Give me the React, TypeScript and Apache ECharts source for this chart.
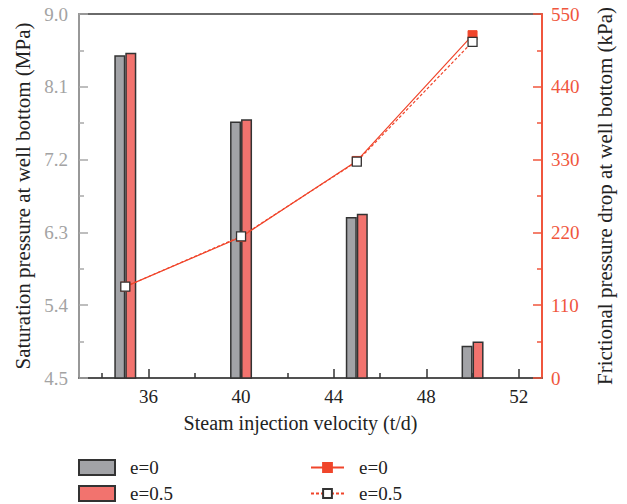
import React, { useEffect, useRef } from "react";
import * as echarts from "echarts";

const velocities = [35, 40, 45, 50];
const satPressureE0 = [8.49, 7.67, 6.49, 4.9];
const satPressureE05 = [8.52, 7.7, 6.53, 4.95];
const frictionDropE0 = [138, 213, 328, 518];
const frictionDropE05 = [138, 214, 327, 508];
const xMajorTicks = [36, 40, 44, 48, 52];
const xMinorTicks = [34, 38, 42, 46, 50];
const barNames = ["e=0", "e=0.5"];
const lineNames = ["L e=0", "L e=0.5"];

const FONT = "Liberation Serif";
const GRAY_BAR = "#a2a3a7";
const RED_BAR = "#f2736e";
const RED_LINE = "#f0452b";
const RED_AXIS = "#f0563d";
const GRAY_AXIS = "#a9a9a9";
const GRAY_LABEL = "#a3a3a3";
const LABEL_SIZE = 19;

export default function App() {
  const ref = useRef<HTMLDivElement>(null);
  useEffect(() => {
    if (!ref.current) return;
    const chart = echarts.init(ref.current, null, { renderer: "svg" });
    const pair = (xs: number[], ys: number[]) => xs.map((x, i) => [x, ys[i]]);
    const legendText = { fontFamily: FONT, fontSize: LABEL_SIZE, color: "#222" };
    const barLegend = (name: string, top: number) => ({
      orient: "vertical",
      left: 78,
      top,
      padding: 0,
      itemWidth: 36,
      itemHeight: 15,
      icon: "rect",
      data: [name],
      textStyle: { ...legendText, padding: [0, 0, 0, 10] },
    });
    const lineLegend = (name: string, top: number) => ({
      orient: "vertical",
      left: 310,
      top,
      padding: 0,
      itemWidth: 33,
      itemHeight: 11,
      data: [name],
      formatter: (n: string) => n.replace("L ", ""),
      textStyle: { ...legendText, padding: [0, 0, 0, 10] },
    });
    chart.setOption({
      animation: false,
      textStyle: { fontFamily: FONT },
      grid: {
        left: 79,
        right: 85,
        top: 14,
        bottom: 126,
        containLabel: false,
        outerBoundsMode: "none",
        show: true,
        borderColor: "#3a3a3a",
        borderWidth: 1.5,
        backgroundColor: "transparent",
      },
      legend: [
        barLegend(barNames[0], 458),
        barLegend(barNames[1], 484),
        lineLegend(lineNames[0], 458),
        lineLegend(lineNames[1], 484),
      ],
      xAxis: [
        {
          type: "value",
          min: 33,
          max: 53,
          name: "Steam injection velocity (t/d)",
          nameLocation: "middle",
          nameGap: 35,
          nameTextStyle: { fontFamily: FONT, fontSize: 20, color: "#222", padding: [0, 20, 0, 0] },
          axisLine: { show: true, lineStyle: { color: "#4a4a4a", width: 1.5 } },
          axisTick: {
            show: true,
            inside: true,
            length: 9,
            customValues: xMajorTicks,
            lineStyle: { color: "#333", width: 1.5 },
          },
          axisLabel: {
            customValues: xMajorTicks,
            fontFamily: FONT,
            fontSize: LABEL_SIZE,
            color: "#222",
            margin: 9,
          },
          splitLine: { show: false },
        },
        {
          type: "value",
          min: 33,
          max: 53,
          position: "bottom",
          axisLine: { show: false },
          axisTick: {
            show: true,
            inside: true,
            length: 5,
            customValues: xMinorTicks,
            lineStyle: { color: "#333", width: 1.5 },
          },
          axisLabel: { show: false },
          splitLine: { show: false },
        },
      ],
      yAxis: [
        {
          type: "value",
          min: 4.5,
          max: 9.0,
          interval: 0.9,
          position: "left",
          name: "Saturation pressure at well bottom (MPa)",
          nameLocation: "middle",
          nameRotate: 90,
          nameGap: 44,
          nameTextStyle: { fontFamily: FONT, fontSize: 21, color: "#222" },
          axisLine: { show: true, lineStyle: { color: GRAY_AXIS, width: 1.5 } },
          axisTick: { show: true, inside: true, length: 9, lineStyle: { color: GRAY_AXIS, width: 1.5 } },
          minorTick: { show: true, splitNumber: 2, length: 5, lineStyle: { color: GRAY_AXIS, width: 1.5 } },
          axisLabel: {
            fontFamily: FONT,
            fontSize: LABEL_SIZE,
            color: GRAY_LABEL,
            margin: 11,
            formatter: (v: number) => v.toFixed(1),
          },
          splitLine: { show: false },
        },
        {
          type: "value",
          min: 0,
          max: 550,
          interval: 110,
          position: "right",
          name: "Frictional pressure drop at well bottom (kPa)",
          nameLocation: "middle",
          nameRotate: 90,
          nameGap: 52,
          nameTextStyle: { fontFamily: FONT, fontSize: 21, color: "#222" },
          axisLine: { show: true, lineStyle: { color: RED_AXIS, width: 2 } },
          axisTick: { show: true, inside: true, length: 9, lineStyle: { color: RED_AXIS, width: 1.5 } },
          minorTick: { show: true, splitNumber: 2, length: 5, lineStyle: { color: RED_AXIS, width: 1.5 } },
          axisLabel: { fontFamily: FONT, fontSize: LABEL_SIZE, color: RED_AXIS, margin: 9 },
          splitLine: { show: false },
        },
      ],
      series: [
        {
          name: barNames[0],
          type: "bar",
          xAxisIndex: 0,
          yAxisIndex: 0,
          barWidth: 11,
          barGap: "0%",
          data: pair(velocities, satPressureE0),
          itemStyle: { color: GRAY_BAR, borderColor: "#333", borderWidth: 1.5 },
        },
        {
          name: barNames[1],
          type: "bar",
          xAxisIndex: 0,
          yAxisIndex: 0,
          barWidth: 11,
          barGap: "0%",
          data: pair(velocities, satPressureE05),
          itemStyle: { color: RED_BAR, borderColor: "#333", borderWidth: 1.5 },
        },
        {
          name: lineNames[0],
          type: "line",
          xAxisIndex: 0,
          yAxisIndex: 1,
          data: pair(velocities, frictionDropE0),
          symbol: "rect",
          symbolSize: 9,
          lineStyle: { color: RED_LINE, width: 1.2, type: "solid" },
          itemStyle: { color: RED_LINE, borderColor: RED_LINE, borderWidth: 1 },
          z: 3,
        },
        {
          name: lineNames[1],
          type: "line",
          xAxisIndex: 0,
          yAxisIndex: 1,
          data: pair(velocities, frictionDropE05),
          symbol: "rect",
          symbolSize: 9,
          lineStyle: { color: RED_LINE, width: 1.2, type: [3, 2] },
          itemStyle: { color: "#ffffff", borderColor: "#333", borderWidth: 1.3 },
          z: 4,
        },
      ],
    });
    return () => chart.dispose();
  }, []);
  return <div ref={ref} style={{ width: 627, height: 504, position: "absolute", left: 0, top: 0 }} />;
}
